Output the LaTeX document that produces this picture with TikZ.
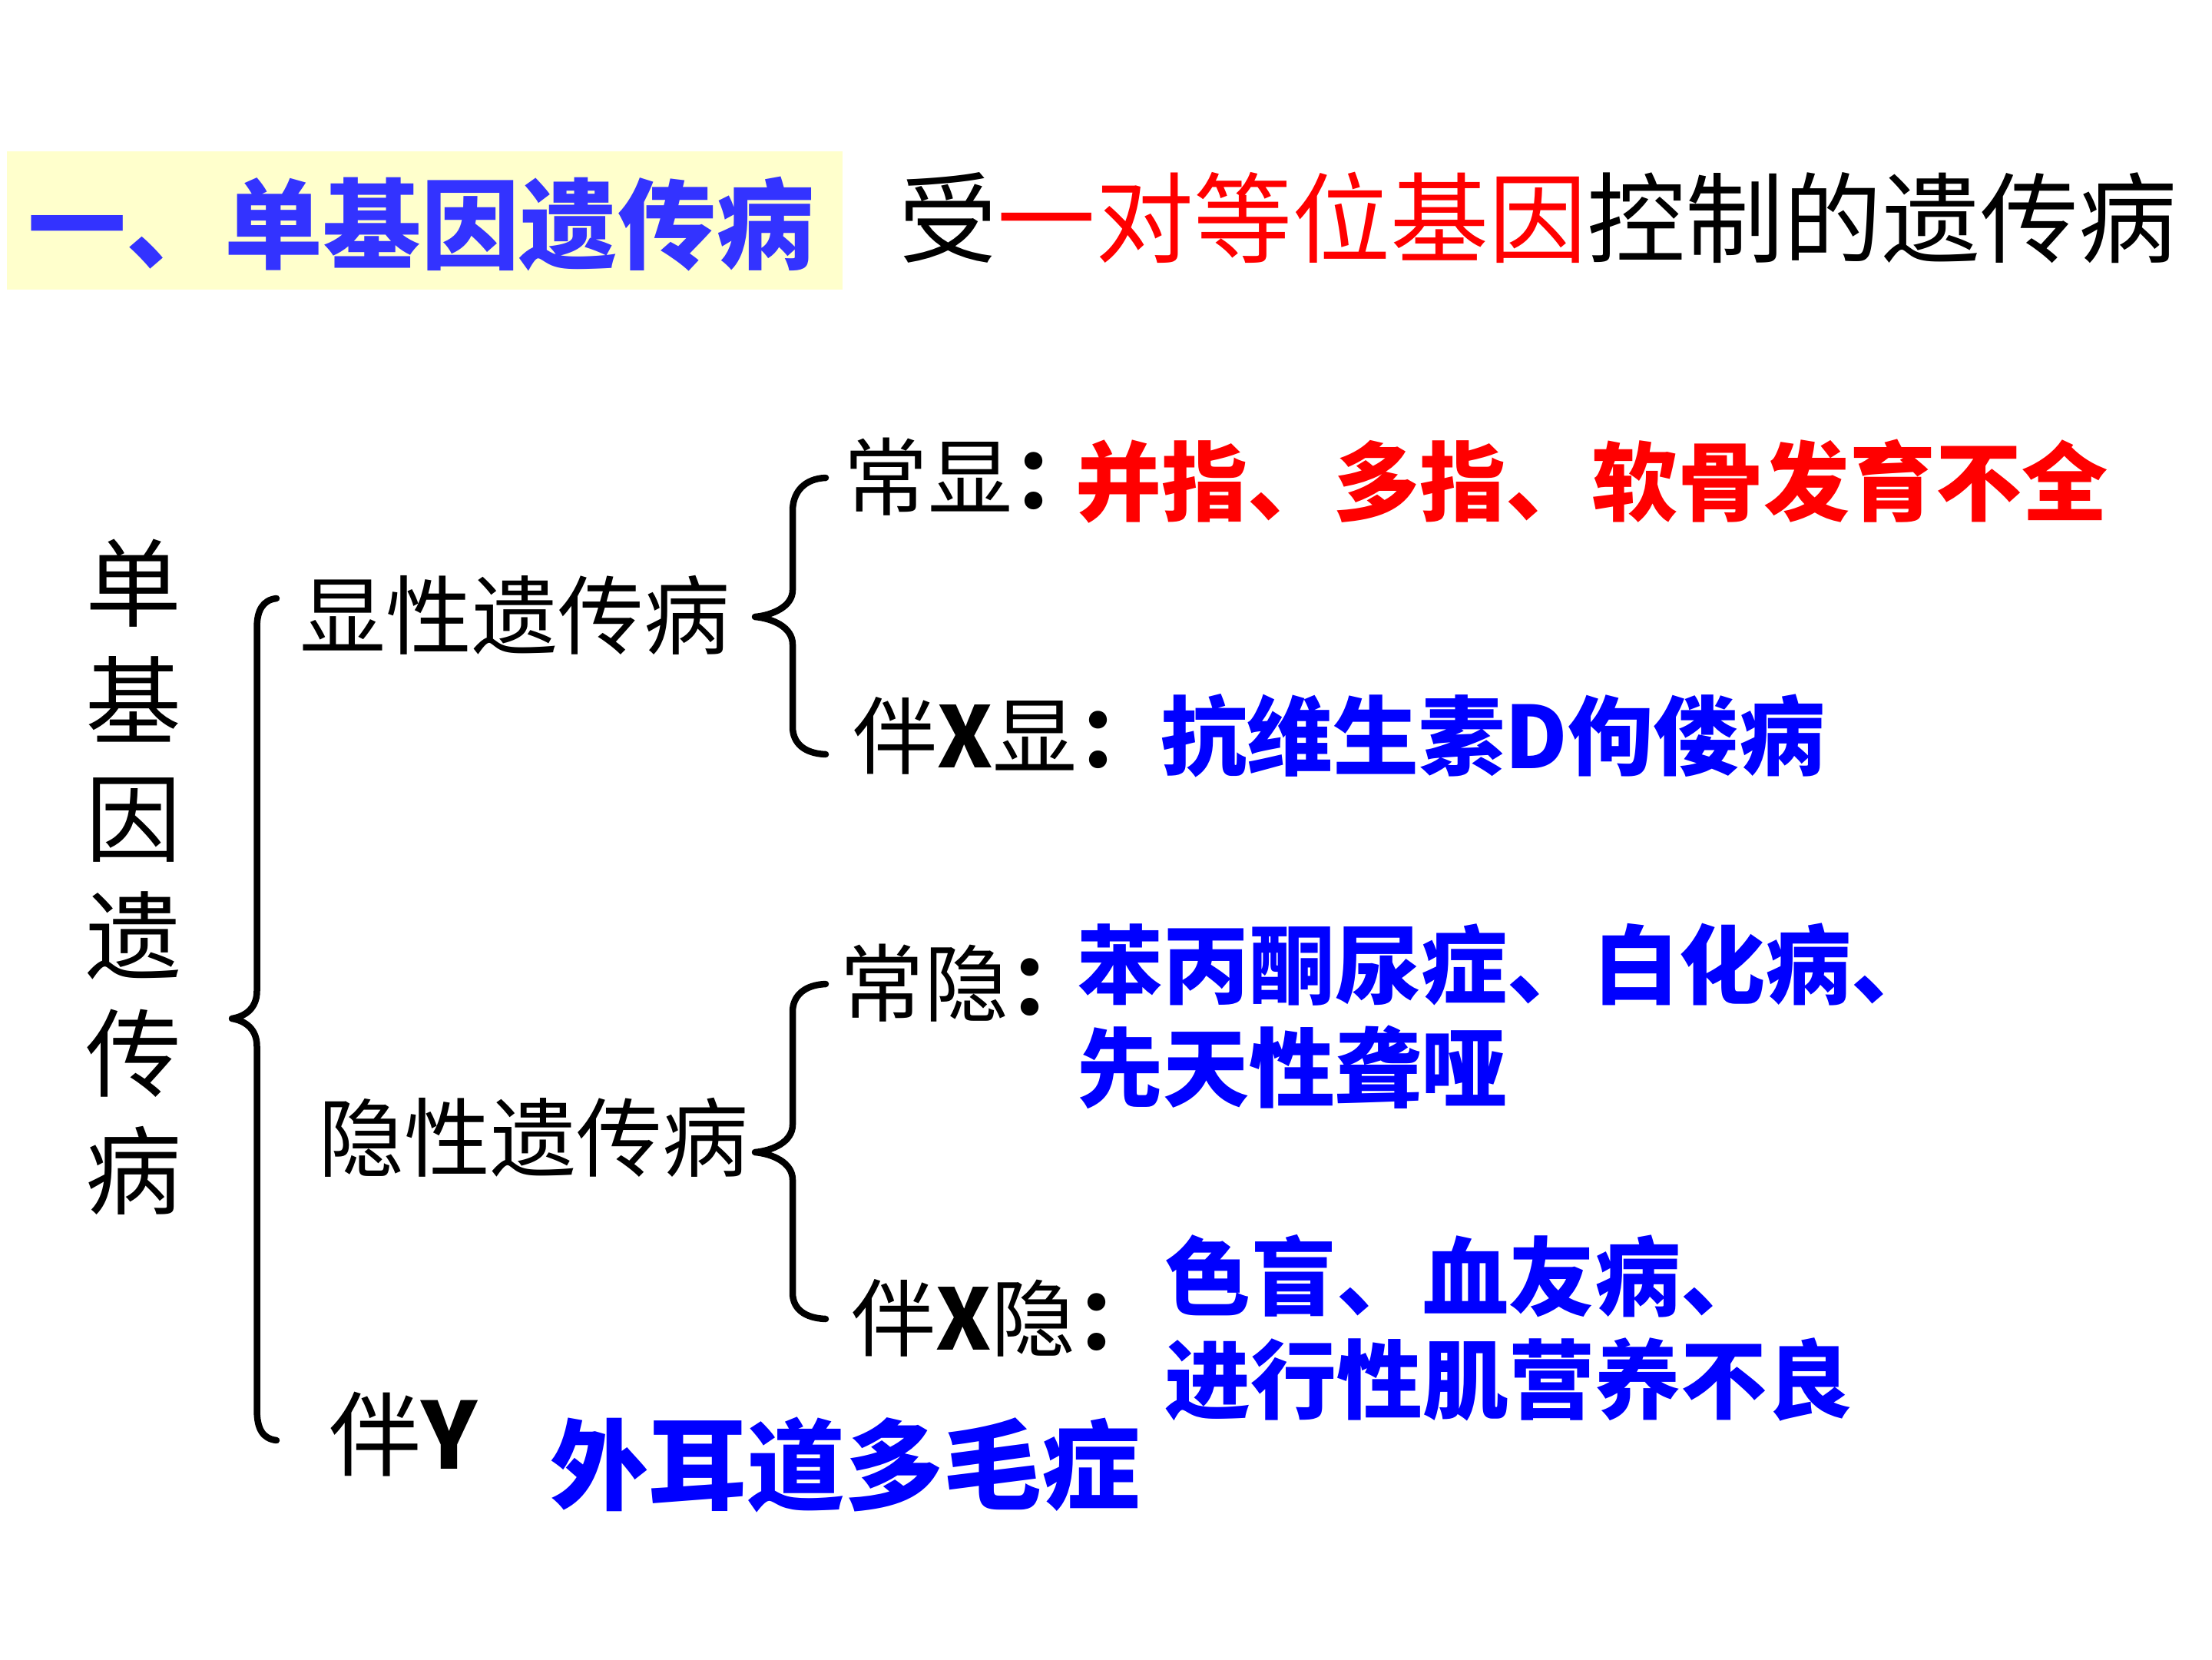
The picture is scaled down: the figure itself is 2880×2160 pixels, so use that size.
\documentclass[tikz,border=0pt]{standalone}
\usepackage{fontspec}
\setmainfont{Noto Sans CJK SC}
\definecolor{titleblue}{HTML}{3333FF}
\definecolor{titlebg}{HTML}{FFFFCC}
\definecolor{dblue}{HTML}{0000FF}
\definecolor{dred}{HTML}{FF0000}
\newcommand{\myfs}[2]{\fontsize{#1}{#2}\selectfont}
\tikzset{
  txt/.style={inner sep=0pt, anchor=base west},
  bracepath/.style={line width=8.5pt, line cap=round, line join=round},
}
\begin{document}
\begin{tikzpicture}[x=1pt,y=-1pt]
\path[use as bounding box, fill=white] (0,0) rectangle (2880,2160);

% title
\fill[titlebg] (9,197) rectangle (1097,377);
\node[txt, text=titleblue, font=\myfs{128}{128}\bfseries] (title) at (36,340) {一、单基因遗传病};
\node[txt, font=\myfs{128}{128}] (head) at (1170,332) {受\textcolor{dred}{一对等位基因}控制的遗传病};

% left vertical
\node[inner sep=0pt, align=center, font=\myfs{125}{153}] (vert) at (174,1142) {单\\基\\因\\遗\\传\\病};

% big brace
\coordinate (b1t) at (360,779);
\coordinate (b1m) at (302,1326);
\coordinate (b1b) at (360,1875);
\draw[bracepath] (b1t) .. controls (342,781) and (334.5,795) .. (334.5,817) -- (334.5,1290)
  .. controls (334.5,1312) and (320,1323) .. (b1m)
  .. controls (320,1329) and (334.5,1340) .. (334.5,1362) -- (334.5,1835)
  .. controls (334.5,1860) and (342,1873) .. (b1b);

\node[txt, font=\myfs{112}{112}] (dom) at (390,843) {显性遗传病};
\node[txt, font=\myfs{112}{112}] (rec) at (414,1523) {隐性遗传病};
\node[txt, font=\myfs{120}{120}] (ylink) at (428,1912) {伴{\bfseries Y}};
\node[txt, text=dblue, font=\myfs{128}{128}\bfseries] (ydis) at (716,1955) {外耳道多毛症};

% upper small brace
\coordinate (b2t) at (1075,622);
\coordinate (b2m) at (983,803);
\coordinate (b2b) at (1075,982);
\draw[bracepath] (b2t) .. controls (1048,623) and (1032,640) .. (1032,665) -- (1032,768)
  .. controls (1032,790) and (1005,801) .. (b2m)
  .. controls (1005,805) and (1032,816) .. (1032,839) -- (1032,946)
  .. controls (1032,968) and (1048,981) .. (b2b);

% lower small brace
\coordinate (b3t) at (1075,1281);
\coordinate (b3m) at (983,1500);
\coordinate (b3b) at (1075,1717);
\draw[bracepath] (b3t) .. controls (1048,1282) and (1032,1296) .. (1032,1317) -- (1032,1464)
  .. controls (1032,1487) and (1005,1498) .. (b3m)
  .. controls (1005,1502) and (1032,1513) .. (1032,1536) -- (1032,1683)
  .. controls (1032,1704) and (1048,1716) .. (b3b);

% dominant items
\node[txt, font=\myfs{110}{110}] (ad) at (1098,662) {常显{\bfseries ：}};
\node[txt, text=dred, font=\myfs{112}{112}\bfseries] (adlist) at (1400,669) {并指、多指、软骨发育不全};
\node[txt, font=\myfs{110}{110}] (xd) at (1110,999) {伴{\bfseries X}显{\bfseries ：}};
\node[txt, text=dblue, font=\myfs{112}{112}\bfseries] (xdlist) at (1511,1000) {抗维生素D佝偻病};

% recessive items
\node[txt, font=\myfs{110}{110}] (ar) at (1093,1321) {常隐{\bfseries ：}};
\node[txt, text=dblue, font=\myfs{112}{112}\bfseries] (arlist1) at (1402,1298) {苯丙酮尿症、白化病、};
\node[txt, text=dblue, font=\myfs{112}{112}\bfseries] (arlist2) at (1402,1432) {先天性聋哑};
\node[txt, font=\myfs{110}{110}] (xr) at (1108,1757) {伴{\bfseries X}隐{\bfseries ：}};
\node[txt, text=dblue, font=\myfs{112}{112}\bfseries] (xrlist1) at (1516,1704) {色盲、血友病、};
\node[txt, text=dblue, font=\myfs{112}{112}\bfseries] (xrlist2) at (1516,1838) {进行性肌营养不良};
\end{tikzpicture}
\end{document}
